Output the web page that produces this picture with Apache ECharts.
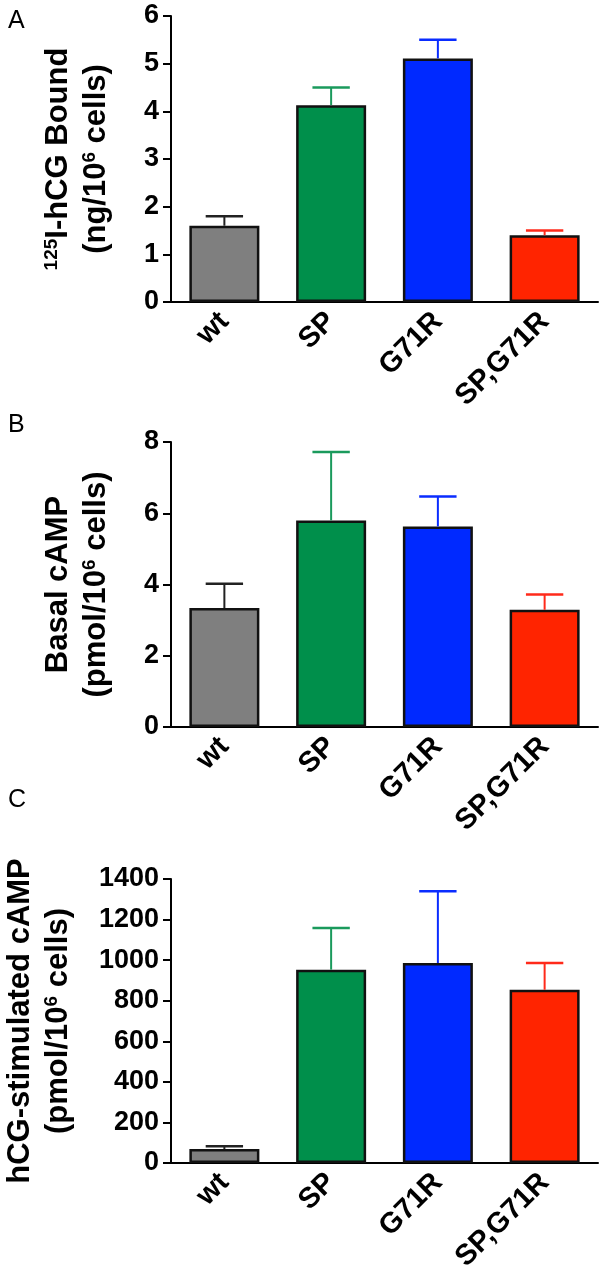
<!DOCTYPE html>
<html>
<head>
<meta charset="utf-8">
<script src="https://cdn.jsdelivr.net/npm/echarts@6/dist/echarts.min.js"></script>
<style>
html,body{margin:0;padding:0;background:#fff;}
#chart{width:600px;height:1281px;}
</style>
</head>
<body>
<div id="chart"></div>
<script>
// ---- data ----
const categories = ['wt', 'SP', 'G71R', 'SP,G71R'];
const bindingMean = [1.6, 4.13, 5.11, 1.4];
const bindingSem = [0.2, 0.37, 0.39, 0.1];
const basalMean = [3.34, 5.8, 5.63, 3.29];
const basalSem = [0.68, 1.92, 0.84, 0.43];
const stimMean = [69, 953, 986, 854];
const stimSem = [13, 205, 353, 132];
const yTicksA = [0, 6, 1];
const yTicksB = [0, 8, 2];
const yTicksC = [0, 1400, 200];

// ---- styles ----
const barColors = ['#7f7f7f', '#008f4b', '#0029ff', '#ff2400'];
const errColors = ['#222222', '#1a9a5c', '#0a2cff', '#ff2a1a'];
const FONT = 'Liberation Sans, Arial, Helvetica, sans-serif';

const chart = echarts.init(document.getElementById('chart'), null, {renderer: 'canvas'});

const grids = [
  {left: 171, width: 427, top: 16, height: 286, outerBoundsMode: 'none', containLabel: false},
  {left: 171, width: 427, top: 442, height: 285, outerBoundsMode: 'none', containLabel: false},
  {left: 171, width: 427, top: 879, height: 284, outerBoundsMode: 'none', containLabel: false}
];

const names = [
  '{sup|125}I-hCG Bound\n(ng/10{sup|6} cells)',
  'Basal cAMP\n(pmol/10{sup|6} cells)',
  'hCG-stimulated cAMP\n(pmol/10{sup|6} cells)'
];
const nameGaps = [56, 56, 94];
const ticks = [yTicksA, yTicksB, yTicksC];
const means = [bindingMean, basalMean, stimMean];
const sems = [bindingSem, basalSem, stimSem];

const xAxes = [], yAxes = [], series = [];
for (let i = 0; i < 3; i++) {
  xAxes.push({
    type: 'category', gridIndex: i, data: categories,
    axisLine: {show: true, lineStyle: {color: '#000', width: 2}},
    axisTick: {show: false},
    axisLabel: {rotate: 45, fontSize: 29, fontWeight: 'bold', fontFamily: FONT, color: '#000', margin: 15}
  });
  yAxes.push({
    type: 'value', gridIndex: i, min: ticks[i][0], max: ticks[i][1], interval: ticks[i][2],
    splitLine: {show: false},
    axisLine: {show: true, lineStyle: {color: '#000', width: 2}},
    axisTick: {show: true, length: 8, lineStyle: {color: '#000', width: 2}},
    axisLabel: {fontSize: 27, fontWeight: 'bold', fontFamily: FONT, color: '#000', margin: 12,
      formatter: function (v) { return String(v); }},
    name: names[i], nameLocation: 'middle', nameRotate: 90, nameGap: nameGaps[i],
    nameTextStyle: {
      fontSize: 31, fontWeight: 'bold', fontFamily: FONT, color: '#000', lineHeight: 38, align: 'center',
      rich: {sup: {fontSize: 19, fontWeight: 'bold', fontFamily: FONT, color: '#000', padding: [0, 0, 13, 0]}}
    }
  });
  series.push({
    type: 'bar', xAxisIndex: i, yAxisIndex: i, barWidth: 70,
    data: means[i].map((v, k) => ({value: v, itemStyle: {color: barColors[k]}})),
    itemStyle: {borderColor: '#111', borderWidth: 2.5},
    z: 2
  });
  series.push({
    type: 'custom', xAxisIndex: i, yAxisIndex: i, z: 3,
    data: means[i].map((v, k) => [k, v, sems[i][k]]),
    renderItem: function (params, api) {
      const x = api.value(0), m = api.value(1), e = api.value(2);
      const p0 = api.coord([x, m]);
      const p1 = api.coord([x, m + e]);
      const hw = api.size([1, 0])[0] * 0.175;
      const col = errColors[params.dataIndex];
      return {
        type: 'group',
        children: [
          {type: 'line', shape: {x1: p0[0], y1: p0[1], x2: p1[0], y2: p1[1]}, style: {stroke: col, lineWidth: 2}},
          {type: 'line', shape: {x1: p1[0] - hw, y1: p1[1], x2: p1[0] + hw, y2: p1[1]}, style: {stroke: col, lineWidth: 2.5}}
        ]
      };
    }
  });
}

chart.setOption({
  animation: false,
  backgroundColor: '#fff',
  title: [
    {text: 'A', left: 3, top: 4, textStyle: {fontSize: 25, fontWeight: 'normal', fontFamily: FONT, color: '#000'}},
    {text: 'B', left: 3, top: 408, textStyle: {fontSize: 25, fontWeight: 'normal', fontFamily: FONT, color: '#000'}},
    {text: 'C', left: 3, top: 783, textStyle: {fontSize: 25, fontWeight: 'normal', fontFamily: FONT, color: '#000'}}
  ],
  grid: grids,
  xAxis: xAxes,
  yAxis: yAxes,
  series: series
});
</script>
</body>
</html>
